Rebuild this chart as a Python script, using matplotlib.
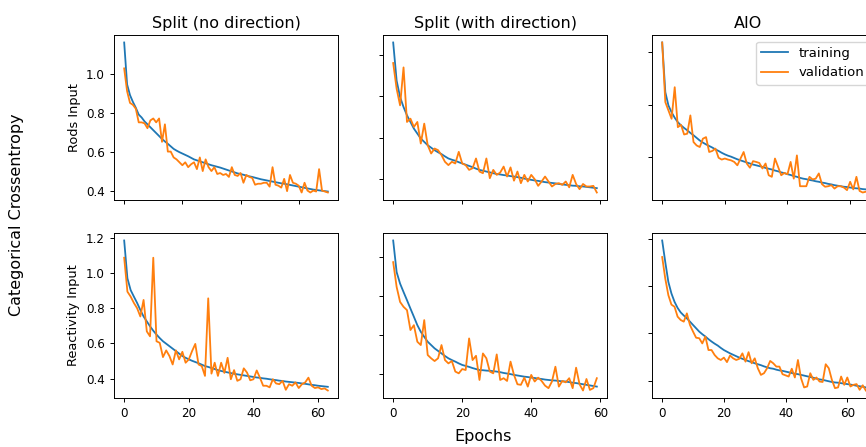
import matplotlib
matplotlib.use("Agg")
import matplotlib.pyplot as plt

# ---- loss histories -------------------------------------------------------
# Rods input, split model without direction
rods_split_nodir_train = [1.16, 0.945, 0.89, 0.855, 0.825, 0.79, 0.775, 0.755, 0.74, 0.725, 0.71, 0.695,
                          0.68, 0.665, 0.652, 0.64, 0.627, 0.614, 0.605, 0.597, 0.59, 0.583, 0.576, 0.568,
                          0.56, 0.555, 0.55, 0.545, 0.54, 0.535, 0.53, 0.526, 0.522, 0.518, 0.513, 0.508,
                          0.503, 0.498, 0.493, 0.488, 0.485, 0.481, 0.477, 0.473, 0.47, 0.466, 0.462,
                          0.458, 0.455, 0.452, 0.449, 0.446, 0.443, 0.44, 0.437, 0.435, 0.432, 0.429,
                          0.426, 0.423, 0.42, 0.417, 0.414, 0.411, 0.408, 0.405, 0.403, 0.401, 0.399,
                          0.397, 0.395]
rods_split_nodir_val = [1.027, 0.91, 0.85, 0.84, 0.82, 0.75, 0.75, 0.745, 0.72, 0.76, 0.77, 0.75, 0.77,
                        0.65, 0.74, 0.60, 0.60, 0.57, 0.56, 0.545, 0.53, 0.545, 0.52, 0.535, 0.545, 0.51,
                        0.57, 0.50, 0.56, 0.52, 0.50, 0.52, 0.485, 0.49, 0.48, 0.485, 0.47, 0.52, 0.48,
                        0.475, 0.49, 0.44, 0.48, 0.47, 0.465, 0.43, 0.435, 0.435, 0.44, 0.44, 0.42, 0.52,
                        0.43, 0.425, 0.415, 0.46, 0.397, 0.48, 0.44, 0.435, 0.425, 0.39, 0.44, 0.40,
                        0.39, 0.40, 0.395, 0.51, 0.40, 0.395, 0.39]

# Rods input, split model with direction
rods_split_dir_train = [1.059, 0.875, 0.796, 0.748, 0.708, 0.676, 0.644, 0.62, 0.596, 0.58, 0.564, 0.552,
                        0.54, 0.53, 0.521, 0.51, 0.50, 0.494, 0.489, 0.482, 0.476, 0.47, 0.464, 0.458,
                        0.451, 0.445, 0.441, 0.437, 0.433, 0.429, 0.425, 0.423, 0.42, 0.418, 0.415, 0.413,
                        0.41, 0.407, 0.403, 0.40, 0.397, 0.394, 0.392, 0.389, 0.386, 0.384, 0.382, 0.38,
                        0.377, 0.375, 0.373, 0.371, 0.369, 0.368, 0.366, 0.365, 0.363, 0.361, 0.359, 0.357]
rods_split_dir_val = [0.96, 0.836, 0.756, 0.939, 0.676, 0.692, 0.652, 0.676, 0.572, 0.668, 0.564, 0.524,
                      0.548, 0.54, 0.516, 0.484, 0.468, 0.484, 0.476, 0.532, 0.476, 0.468, 0.445, 0.453,
                      0.50, 0.437, 0.429, 0.50, 0.405, 0.445, 0.421, 0.432, 0.461, 0.413, 0.457, 0.393,
                      0.437, 0.381, 0.421, 0.389, 0.421, 0.40, 0.368, 0.389, 0.413, 0.389, 0.365, 0.377,
                      0.381, 0.373, 0.389, 0.361, 0.421, 0.377, 0.352, 0.377, 0.365, 0.365, 0.368, 0.336]

# Rods input, all-in-one model
rods_aio_train = [1.038, 0.848, 0.797, 0.771, 0.75, 0.733, 0.721, 0.711, 0.702, 0.692, 0.683, 0.673,
                  0.663, 0.655, 0.648, 0.642, 0.636, 0.629, 0.623, 0.616, 0.61, 0.605, 0.601, 0.596,
                  0.591, 0.587, 0.583, 0.579, 0.575, 0.571, 0.568, 0.565, 0.562, 0.558, 0.555, 0.552,
                  0.548, 0.545, 0.541, 0.538, 0.534, 0.531, 0.527, 0.524, 0.52, 0.517, 0.515, 0.512,
                  0.51, 0.507, 0.505, 0.502, 0.50, 0.497, 0.495, 0.492, 0.49, 0.488, 0.486, 0.485,
                  0.483, 0.481, 0.48, 0.479, 0.477, 0.476]
rods_aio_val = [1.038, 0.81, 0.778, 0.746, 0.867, 0.714, 0.723, 0.686, 0.689, 0.759, 0.657, 0.644,
                0.638, 0.67, 0.676, 0.619, 0.623, 0.632, 0.597, 0.59, 0.594, 0.59, 0.587, 0.581,
                0.568, 0.594, 0.619, 0.575, 0.559, 0.584, 0.581, 0.577, 0.556, 0.575, 0.53, 0.524,
                0.594, 0.562, 0.53, 0.539, 0.534, 0.581, 0.517, 0.606, 0.488, 0.488, 0.488, 0.524,
                0.514, 0.517, 0.537, 0.496, 0.486, 0.488, 0.492, 0.479, 0.488, 0.488, 0.483, 0.473,
                0.505, 0.476, 0.524, 0.47, 0.464, 0.467]

# Reactivity input, split model without direction
react_split_nodir_train = [1.185, 0.97, 0.903, 0.866, 0.83, 0.79, 0.753, 0.725, 0.697, 0.672, 0.65,
                           0.63, 0.612, 0.598, 0.584, 0.57, 0.556, 0.542, 0.528, 0.518, 0.509, 0.501,
                           0.494, 0.487, 0.479, 0.471, 0.466, 0.46, 0.454, 0.448, 0.443, 0.439, 0.435,
                           0.431, 0.427, 0.424, 0.421, 0.418, 0.415, 0.412, 0.409, 0.406, 0.404, 0.401,
                           0.399, 0.396, 0.393, 0.391, 0.388, 0.386, 0.383, 0.381, 0.379, 0.377, 0.375,
                           0.372, 0.37, 0.367, 0.364, 0.362, 0.359, 0.357, 0.355, 0.353]
react_split_nodir_val = [1.087, 0.894, 0.866, 0.83, 0.80, 0.753, 0.847, 0.668, 0.64, 1.087, 0.612,
                         0.603, 0.522, 0.56, 0.528, 0.48, 0.56, 0.509, 0.552, 0.49, 0.509, 0.556,
                         0.597, 0.48, 0.471, 0.415, 0.856, 0.428, 0.49, 0.415, 0.49, 0.432, 0.518,
                         0.396, 0.448, 0.387, 0.396, 0.458, 0.434, 0.39, 0.396, 0.446, 0.405, 0.359,
                         0.359, 0.35, 0.396, 0.372, 0.368, 0.387, 0.336, 0.368, 0.359, 0.378, 0.346,
                         0.368, 0.378, 0.405, 0.359, 0.346, 0.35, 0.34, 0.344, 0.332]

# Reactivity input, split model with direction
react_split_dir_train = [1.085, 0.923, 0.864, 0.821, 0.779, 0.736, 0.694, 0.651, 0.617, 0.591, 0.566,
                         0.549, 0.532, 0.519, 0.506, 0.493, 0.481, 0.472, 0.464, 0.455, 0.447, 0.442,
                         0.437, 0.431, 0.426, 0.421, 0.42, 0.418, 0.417, 0.415, 0.413, 0.41, 0.406,
                         0.403, 0.40, 0.396, 0.393, 0.39, 0.387, 0.385, 0.382, 0.38, 0.377, 0.375,
                         0.372, 0.37, 0.368, 0.367, 0.365, 0.363, 0.362, 0.359, 0.356, 0.354, 0.351,
                         0.348, 0.345, 0.342, 0.339, 0.336]
react_split_dir_val = [0.974, 0.847, 0.77, 0.745, 0.728, 0.626, 0.651, 0.566, 0.549, 0.677, 0.498,
                       0.481, 0.467, 0.481, 0.549, 0.472, 0.455, 0.467, 0.413, 0.404, 0.426, 0.421,
                       0.583, 0.472, 0.494, 0.37, 0.506, 0.481, 0.413, 0.404, 0.501, 0.37, 0.379,
                       0.365, 0.464, 0.396, 0.348, 0.345, 0.382, 0.336, 0.396, 0.362, 0.382, 0.365,
                       0.341, 0.328, 0.362, 0.438, 0.336, 0.365, 0.358, 0.379, 0.328, 0.433, 0.348,
                       0.316, 0.375, 0.319, 0.328, 0.379]

# Reactivity input, all-in-one model
react_aio_train = [0.993, 0.902, 0.818, 0.769, 0.734, 0.708, 0.689, 0.676, 0.664, 0.65, 0.636, 0.622,
                   0.608, 0.597, 0.587, 0.576, 0.566, 0.557, 0.549, 0.539, 0.53, 0.523, 0.516, 0.51,
                   0.504, 0.498, 0.493, 0.488, 0.483, 0.479, 0.474, 0.47, 0.466, 0.461, 0.457, 0.453,
                   0.451, 0.447, 0.444, 0.442, 0.439, 0.436, 0.433, 0.43, 0.428, 0.425, 0.422, 0.419,
                   0.416, 0.413, 0.409, 0.406, 0.404, 0.401, 0.398, 0.395, 0.393, 0.392, 0.39, 0.388,
                   0.386, 0.384, 0.382, 0.379, 0.377, 0.375, 0.372]
react_aio_val = [0.923, 0.832, 0.762, 0.722, 0.713, 0.671, 0.657, 0.65, 0.685, 0.636, 0.608, 0.582,
                 0.58, 0.558, 0.587, 0.53, 0.53, 0.509, 0.495, 0.488, 0.498, 0.479, 0.507, 0.495,
                 0.488, 0.493, 0.516, 0.481, 0.521, 0.474, 0.495, 0.453, 0.425, 0.432, 0.453, 0.484,
                 0.474, 0.46, 0.46, 0.428, 0.423, 0.418, 0.451, 0.414, 0.488, 0.411, 0.372, 0.376,
                 0.432, 0.404, 0.414, 0.397, 0.395, 0.47, 0.453, 0.404, 0.369, 0.372, 0.418, 0.383,
                 0.414, 0.376, 0.383, 0.386, 0.362, 0.381, 0.359]

col_titles = ["Split (no direction)", "Split (with direction)", "AIO"]
title_x = [0.5, 0.5, 0.43]
row_labels = ["Rods Input", "Reactivity Input"]
series_names = ["training", "validation"]

histories = [
    [(rods_split_nodir_train, rods_split_nodir_val),
     (rods_split_dir_train, rods_split_dir_val),
     (rods_aio_train, rods_aio_val)],
    [(react_split_nodir_train, react_split_nodir_val),
     (react_split_dir_train, react_split_dir_val),
     (react_aio_train, react_aio_val)],
]

# ---- figure ---------------------------------------------------------------
W, H = 866, 447
fig = plt.figure(figsize=(W / 100, H / 100), dpi=100)

col_left = [114, 383, 652]
row_top = [35, 233]
ax_w, ax_h = 224, 165

TICK_FS = 8.6
blue, orange = "#1f77b4", "#ff7f0e"

for r in range(2):
    for c in range(3):
        x0 = col_left[c] / W
        y0 = (H - row_top[r] - ax_h) / H
        ax = fig.add_axes([x0, y0, ax_w / W, ax_h / H])
        train, val = histories[r][c]
        ax.plot(range(len(train)), train, color=blue, lw=1.3, label=series_names[0])
        ax.plot(range(len(val)), val, color=orange, lw=1.3, label=series_names[1])
        ax.set_xticks([0, 20, 40, 60])
        ax.tick_params(labelsize=TICK_FS, length=3, width=0.7)
        for s in ax.spines.values():
            s.set_linewidth(0.7)
        if r == 0:
            ax.tick_params(labelbottom=False)
            ax.set_title(col_titles[c], fontsize=11.5, pad=5, x=title_x[c])
        if c > 0:
            ax.tick_params(labelleft=False)
        else:
            ax.set_ylabel(row_labels[r], fontsize=9.3, labelpad=4)
        if r == 0 and c == 2:
            ax.legend(loc="upper right", fontsize=9.5, framealpha=0.8)

fig.text(17 / W, 1 - 215 / H, "Categorical Crossentropy", rotation=90,
         ha="center", va="center", fontsize=11.5)
fig.text(483 / W, 1 - 437 / H, "Epochs", ha="center", va="center", fontsize=11.5)

fig.savefig("out.png", dpi=100)
